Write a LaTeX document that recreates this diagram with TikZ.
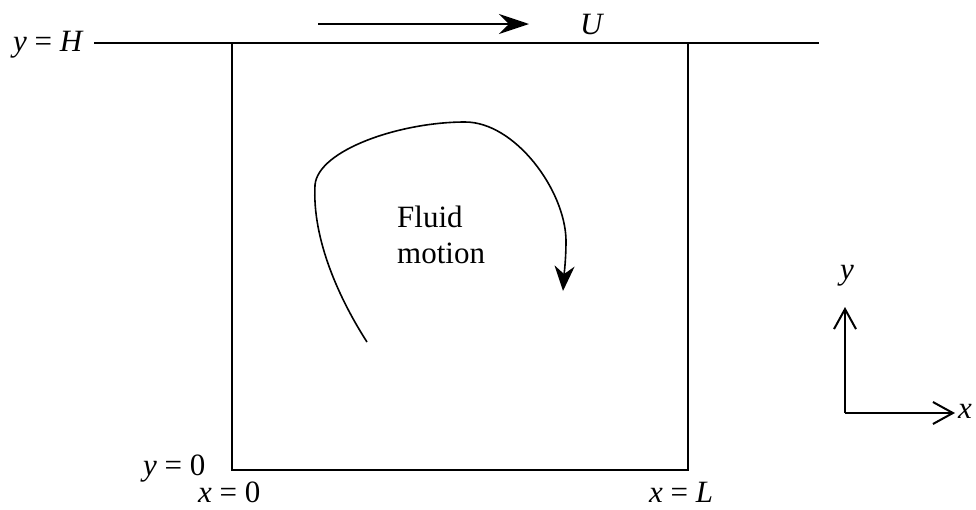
\documentclass[tikz,border=0pt]{standalone}
\usepackage{fontspec}
\setmainfont{Liberation Serif}
\usetikzlibrary{arrows.meta,positioning}

\begin{document}
\begin{tikzpicture}[x=1pt, y=-1pt,
  font=\fontsize{31}{36}\selectfont,
  wall/.style={line width=2pt, line cap=rect},
  lbl/.style={inner sep=0pt, anchor=base west},
  arr/.style={-{Stealth[length=30pt, width=20pt, inset=10pt]}, line width=2pt},
  swirl/.style={-{Stealth[length=25pt, width=20pt, inset=8pt]}, line width=1.6pt},
  axarr/.style={-{Straight Barb[length=20pt, width=22pt]}, line width=2pt}]
\useasboundingbox (0,0) rectangle (976,509);
% cavity walls and moving lid
\coordinate (lidL) at (95,43);
\coordinate (lidR) at (818,43);
\coordinate (tl) at (232,43);
\coordinate (tr) at (688,43);
\coordinate (bl) at (232,470);
\coordinate (br) at (688,470);
\draw[wall] (lidL) -- (lidR);
\draw[wall] (tl) -- (bl) -- (br) -- (tr);
% lid velocity
\coordinate (Ustart) at (318,24);
\coordinate (Uend) at (529,24);
\draw[arr] (Ustart) -- (Uend);
\node[lbl] (U) at (580,34) {\textit{U}};
% labels
\node[lbl] (yH) at (13,51) {\textit{y} = \textit{H}};
\node[lbl] (yzero) at (143,475) {\textit{y} = 0};
\node[lbl] (xzero) at (198,502) {\textit{x} = 0};
\node[lbl] (xL) at (649,502) {\textit{x} = \textit{L}};
% fluid motion swirl
\node[lbl] (fluid) at (397,227) {Fluid};
\node[lbl] (motion) at (397,263) {motion};
\coordinate (swS) at (367,342);
\coordinate (sw1) at (315,185);
\coordinate (sw2) at (465,122);
\coordinate (sw3) at (566,240);
\coordinate (swE) at (563,291);
\draw[swirl] (swS) .. controls (340,300) and (312,240) .. (sw1)
  .. controls (318,150) and (400,122) .. (sw2)
  .. controls (515,122) and (565,190) .. (sw3)
  .. controls (566,260) and (564,275) .. (swE);
% axes
\coordinate (origin) at (845,413);
\coordinate (yax) at (845,307);
\coordinate (xax) at (955,413);
\draw[axarr] (origin) -- (yax);
\draw[axarr] (origin) -- (xax);
\node[lbl] (ylab) at (840,279) {\textit{y}};
\node[lbl] (xlab) at (958,418) {\textit{x}};
\end{tikzpicture}
\end{document}
